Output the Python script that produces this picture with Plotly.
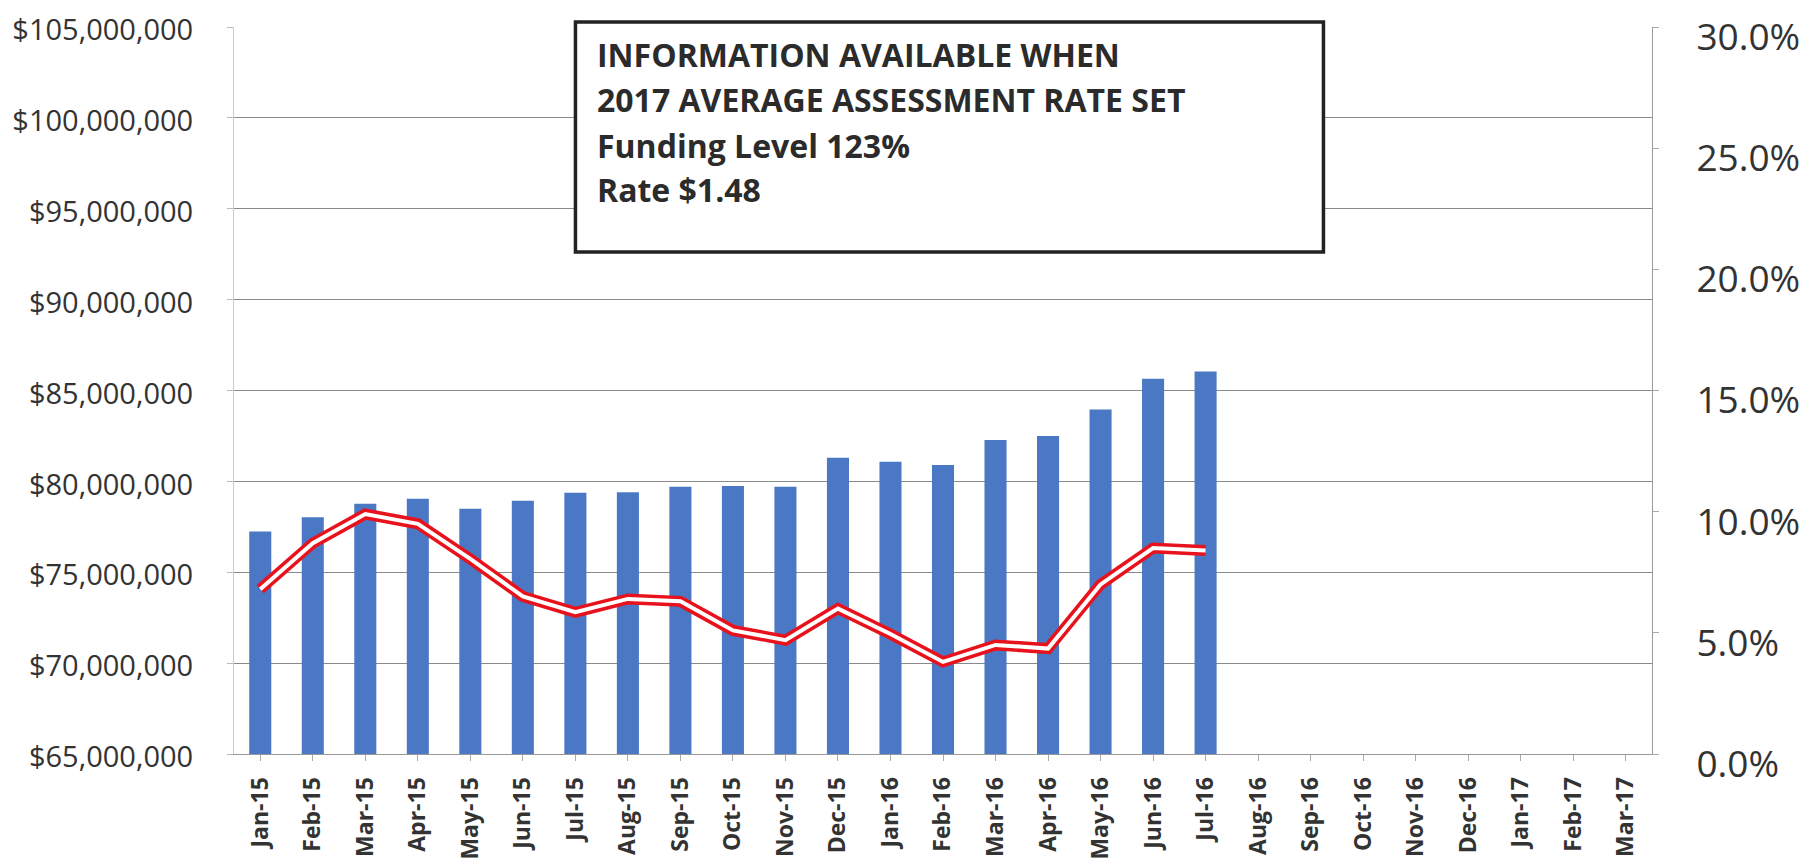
import plotly.graph_objects as go

# Data
months = ['Jan-15', 'Feb-15', 'Mar-15', 'Apr-15', 'May-15', 'Jun-15', 'Jul-15',
          'Aug-15', 'Sep-15', 'Oct-15', 'Nov-15', 'Dec-15', 'Jan-16', 'Feb-16',
          'Mar-16', 'Apr-16', 'May-16', 'Jun-16', 'Jul-16', 'Aug-16', 'Sep-16',
          'Oct-16', 'Nov-16', 'Dec-16', 'Jan-17', 'Feb-17', 'Mar-17']
fund_balance = [77.24e6, 78.03e6, 78.77e6, 79.04e6, 78.49e6, 78.93e6, 79.38e6,
                79.40e6, 79.70e6, 79.75e6, 79.70e6, 81.30e6, 81.08e6, 80.90e6,
                82.28e6, 82.50e6, 83.95e6, 85.65e6, 86.05e6]
pct_values = [0.068, 0.087, 0.099, 0.095, 0.0805, 0.065, 0.0585, 0.064, 0.063,
              0.051, 0.047, 0.060, 0.0495, 0.038, 0.045, 0.0435, 0.070, 0.085, 0.084]
box_lines = ['INFORMATION AVAILABLE WHEN',
             '2017 AVERAGE ASSESSMENT RATE SET',
             'Funding Level 123%',
             'Rate $1.48']

fig = go.Figure()

# Bars on the left axis
fig.add_trace(go.Bar(
    x=months[:len(fund_balance)],
    y=fund_balance,
    marker=dict(color='#4a78c5', line=dict(width=0)),
    name='Balance'
))

# Double red line (red outline, white core) on the right axis
fig.add_trace(go.Scatter(
    x=months[:len(pct_values)],
    y=pct_values,
    mode='lines',
    line=dict(color='#e8121c', width=11),
    yaxis='y2',
    name='Percent'
))
fig.add_trace(go.Scatter(
    x=months[:len(pct_values)],
    y=pct_values,
    mode='lines',
    line=dict(color='white', width=4),
    yaxis='y2',
    hoverinfo='skip'
))

# Framed note box
fig.add_shape(type='rect', xref='paper', yref='paper',
              x0=0.2408, x1=0.7683, y0=0.6905, y1=1.007,
              line=dict(color='#222222', width=3.5), fillcolor='white')
for txt, yy in zip(box_lines, [0.9615, 0.9, 0.837, 0.776]):
    fig.add_annotation(text='<b>%s</b>' % txt, xref='paper', yref='paper',
                       x=0.2549, y=yy, xanchor='left', yanchor='middle',
                       showarrow=False,
                       font=dict(family='Open Sans', size=32, color='#2b2b2b'))

# Customize layout
fig.update_layout(
    width=1817, height=864,
    margin=dict(l=226, r=173, t=19, b=118),
    paper_bgcolor='white',
    plot_bgcolor='white',
    showlegend=False,
    bargap=0.58,
    font=dict(family='Open Sans', color='#333333'),
    xaxis=dict(
        categoryorder='array', categoryarray=months,
        tickmode='array', tickvals=months, ticktext=['<b>%s</b>' % m for m in months],
        tickangle=-90, tickfont=dict(size=23, color='#333333'),
        showline=True, linecolor='#999999', linewidth=1,
        ticks='outside', ticklen=6, tickcolor='#aaaaaa',
        ticklabelstandoff=7,
        range=[-0.5, len(months) - 0.5], automargin=False
    ),
    yaxis=dict(
        range=[65e6, 105e6], dtick=5e6, tickformat='$,.0f',
        tickfont=dict(size=29, color='#333333'),
        showgrid=True, gridcolor='#8a8a8a', gridwidth=1,
        showline=True, linecolor='#cccccc', linewidth=1,
        ticks='outside', ticklen=6, tickcolor='#bbbbbb',
        ticklabelstandoff=28, ticklabelshift=3, ticklabeloverflow='allow',
        zeroline=False, automargin=False
    ),
    yaxis2=dict(
        range=[0, 0.30], dtick=0.05, tickformat='.1%',
        overlaying='y', side='right',
        tickfont=dict(size=37, color='#333333'),
        showgrid=False,
        showline=True, linecolor='#999999', linewidth=1,
        ticks='outside', ticklen=6, tickcolor='#aaaaaa',
        ticklabelstandoff=30, ticklabelshift=10, ticklabeloverflow='allow',
        zeroline=False, automargin=False
    )
)

fig.write_html("out.html")
